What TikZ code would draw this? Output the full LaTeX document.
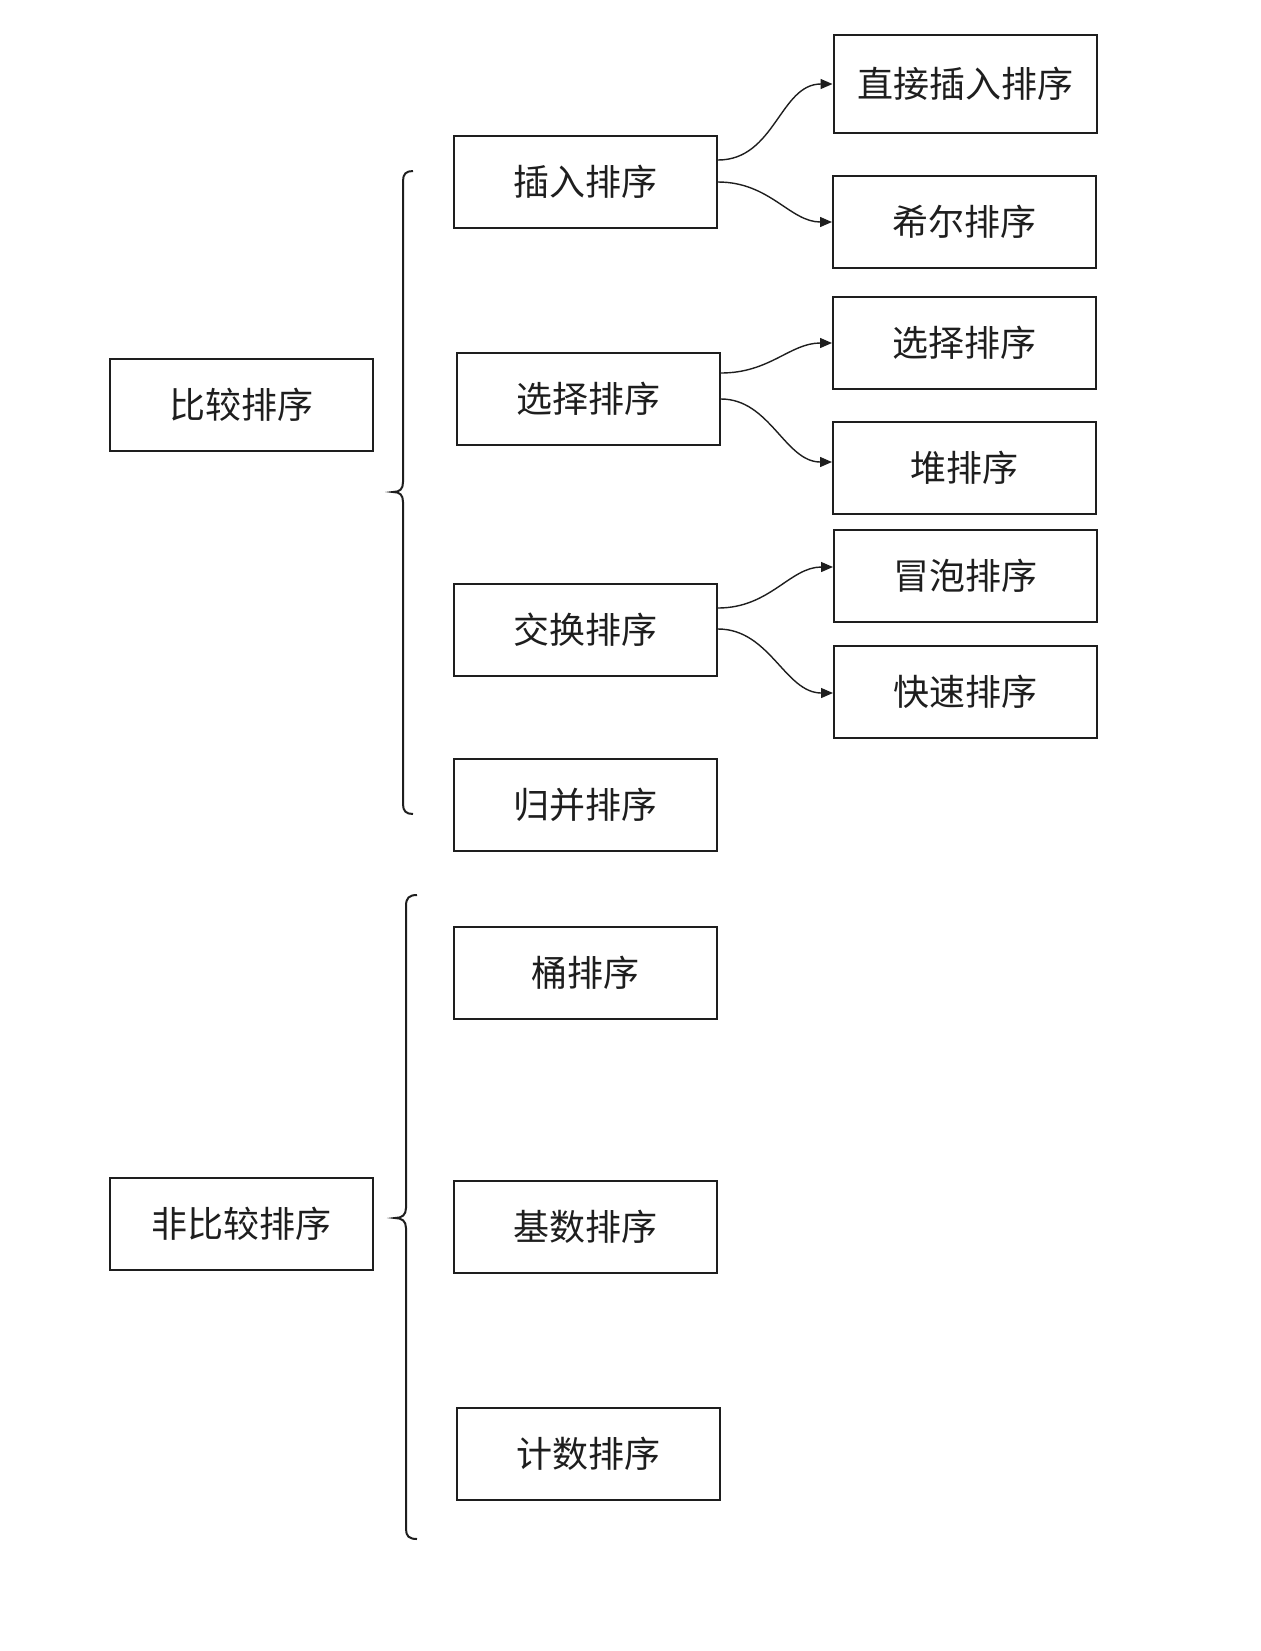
\documentclass[tikz,border=0pt]{standalone}
\usepackage{fontspec}
\setmainfont{Noto Sans CJK SC}
\usetikzlibrary{arrows.meta,calc}
\definecolor{ink}{HTML}{1E1E1E}
\tikzset{
  sortbox/.style={draw=ink, line width=1pt, text=ink, minimum width=131.5pt, minimum height=46pt, inner sep=0pt,
    font=\fontsize{18}{21}\selectfont},
  arr/.style={draw=ink, line width=0.7pt, -{Triangle[length=6pt,width=5pt]}},
  bracepath/.style={draw=ink, line width=1pt}
}
\begin{document}
\begin{tikzpicture}[x=0.5pt,y=-0.5pt]
\useasboundingbox (0,0) rectangle (1260,1651);
% left column
\node[sortbox] (cmp)  at (241.5,404.5) {比较排序};
\node[sortbox] (ncmp) at (241,1224) {非比较排序};
% middle column
\node[sortbox] (ins) at (585.5,182) {插入排序};
\node[sortbox] (sel) at (588.5,399) {选择排序};
\node[sortbox] (swp) at (585.5,630) {交换排序};
\node[sortbox] (mrg) at (585.5,805) {归并排序};
\node[sortbox] (bkt) at (585.5,972.5) {桶排序};
\node[sortbox] (rdx) at (585.5,1227) {基数排序};
\node[sortbox] (cnt) at (588.5,1454) {计数排序};
% right column
\node[sortbox, minimum height=49pt] (dir) at (965,84) {直接插入排序};
\node[sortbox] (shl)  at (964.5,221.5) {希尔排序};
\node[sortbox] (sel2) at (964.5,343) {选择排序};
\node[sortbox] (hp)   at (964.5,468) {堆排序};
\node[sortbox] (bub)  at (965.5,575.5) {冒泡排序};
\node[sortbox] (qck)  at (965.5,691.5) {快速排序};
% connectors
\draw[arr] ($(ins.east)+(0,-22)$) .. controls (775,160) and (780,84) .. (dir.west);
\draw[arr] (ins.east) .. controls (770,182) and (790,222) .. ($(shl.west)+(0,0.5)$);
\draw[arr] ($(sel.east)+(0,-26)$) .. controls (770,373) and (790,343) .. (sel2.west);
\draw[arr] (sel.east) .. controls (770,399) and (785,462) .. ($(hp.west)+(0,-6)$);
\draw[arr] ($(swp.east)+(0,-22)$) .. controls (770,608) and (790,567) .. ($(bub.west)+(0,-8.5)$);
\draw[arr] ($(swp.east)+(0,-1)$) .. controls (770,629) and (785,693) .. ($(qck.west)+(0,1.5)$);
% braces
\coordinate (b1t) at (413,171);
\coordinate (b1m) at (393,492);
\coordinate (b1b) at (413,814);
\draw[bracepath] (b1t) .. controls (406,171) and (403,174) .. (403,181)
  -- (403,482) .. controls (403,489) and (400,492) .. (b1m)
  .. controls (400,492) and (403,495) .. (403,502)
  -- (403,804) .. controls (403,811) and (406,814) .. (b1b);
\coordinate (b2t) at (417,895);
\coordinate (b2m) at (395,1218);
\coordinate (b2b) at (417,1539);
\draw[bracepath] (b2t) .. controls (409,895) and (406,898) .. (406,906)
  -- (406,1208) .. controls (406,1215) and (402,1218) .. (b2m)
  .. controls (402,1218) and (406,1221) .. (406,1228)
  -- (406,1529) .. controls (406,1536) and (409,1539) .. (b2b);
\end{tikzpicture}
\end{document}
